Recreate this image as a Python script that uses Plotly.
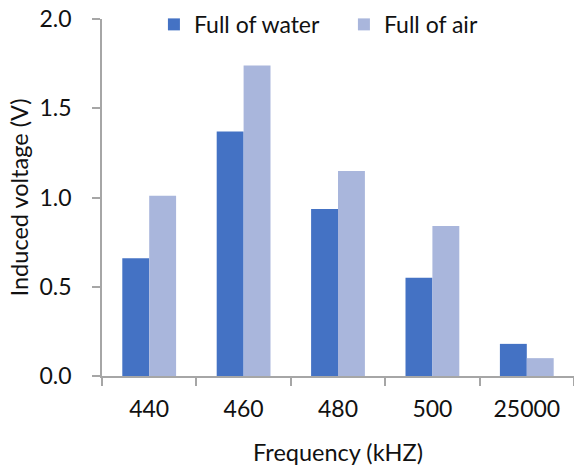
import plotly.graph_objects as go

categories = ["440", "460", "480", "500", "25000"]
water = [0.66, 1.37, 0.935, 0.55, 0.18]
air = [1.01, 1.74, 1.148, 0.84, 0.10]

font_family = "Lato, 'Open Sans', sans-serif"
axis_color = "#a6a6a6"

fig = go.Figure()
fig.add_trace(go.Bar(name="Full of water", x=categories, y=water,
                     marker=dict(color="#4472c4", line=dict(width=0))))
fig.add_trace(go.Bar(name="Full of air", x=categories, y=air,
                     marker=dict(color="#a9b6dc", line=dict(width=0))))

fig.update_layout(
    width=574, height=466,
    margin=dict(l=102, r=0, t=19, b=90),
    paper_bgcolor="white", plot_bgcolor="white",
    barmode="group", bargap=0.43, bargroupgap=0,
    font=dict(family=font_family, size=23, color="#111111"),
    legend=dict(orientation="h", x=0.11, y=1.045, xanchor="left", yanchor="top",
                font=dict(size=23), bgcolor="rgba(0,0,0,0)",
                itemwidth=30, traceorder="normal",
                entrywidthmode="pixels", entrywidth=145),
)
fig.update_xaxes(
    type="category", showline=True, linecolor=axis_color, linewidth=1.5,
    ticks="outside", tickson="boundaries", ticklen=8, tickcolor=axis_color,
    tickwidth=1.5, showgrid=False, ticklabelstandoff=12,
    tickfont=dict(size=23),
    title=dict(text="Frequency (kHZ)", font=dict(size=23.5), standoff=24),
)
fig.update_yaxes(
    range=[0, 2], dtick=0.5, tickformat=".1f",
    showline=True, linecolor=axis_color, linewidth=1.5,
    ticks="outside", ticklen=8, tickcolor=axis_color, tickwidth=1.5,
    showgrid=False, zeroline=False, ticklabelstandoff=16,
    tickfont=dict(size=23),
    title=dict(text="Induced voltage (V)", font=dict(size=23.5), standoff=4),
)

fig.write_html("out.html")
